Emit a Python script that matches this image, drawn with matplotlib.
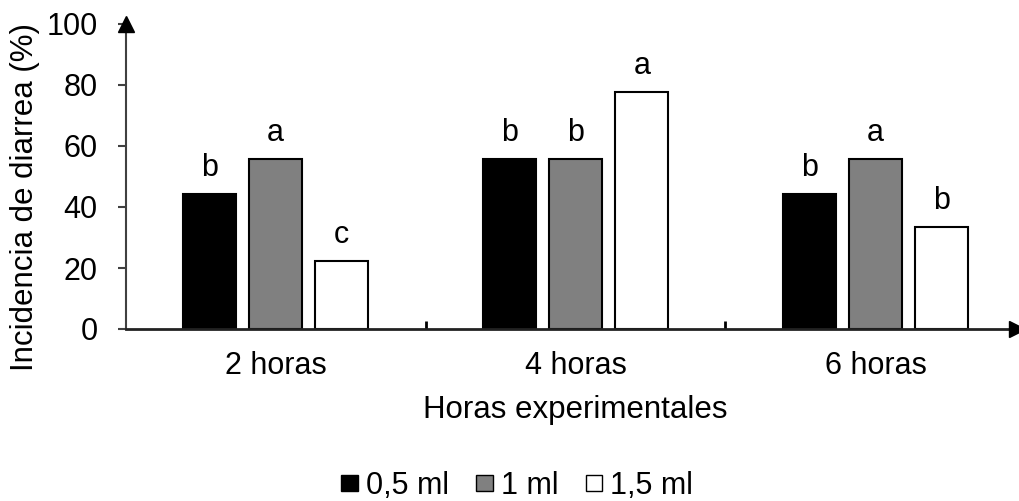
import matplotlib.pyplot as plt
from matplotlib.patches import Rectangle

plt.rcParams['font.family'] = ['Liberation Sans', 'DejaVu Sans']

grupos = ['2 horas', '4 horas', '6 horas']
series = ['0,5 ml', '1 ml', '1,5 ml']
valores = [
    [44.4, 55.6, 44.4],
    [55.6, 55.6, 55.6],
    [22.2, 77.8, 33.3],
]
letras = [
    ['b', 'b', 'b'],
    ['a', 'b', 'a'],
    ['c', 'a', 'b'],
]
colores = ['black', '#808080', 'white']
eje = '#404040'

fig = plt.figure(figsize=(10.19, 5.01), dpi=100)
ax = fig.add_axes([125.5 / 1019, 172 / 501, 891 / 1019, 305 / 501])

ancho = 0.177
desp = 0.221
x = list(range(len(grupos)))
for i, serie in enumerate(series):
    pos = [p + (i - 1) * desp for p in x]
    ax.bar(pos, valores[i], width=ancho, color=colores[i], edgecolor='black',
           linewidth=1.5, label=serie, zorder=2)
    for px, v, t in zip(pos, valores[i], letras[i]):
        ax.annotate(t, (px, v), xytext=(0, 13), textcoords='offset points',
                    ha='center', va='baseline', fontsize=22)

ax.set_xlim(-0.5, 2.47)
ax.set_ylim(0, 100)
ax.set_yticks([0, 20, 40, 60, 80, 100])
ax.tick_params(axis='y', direction='out', length=6, width=1.5, color=eje,
               labelsize=22, pad=14)
ax.set_xticks([0.5, 1.5])
ax.set_xticklabels([])
ax.tick_params(axis='x', which='major', direction='in', length=6, width=2,
               color='black')
ax.set_xticks(x, minor=True)
ax.set_xticklabels(grupos, minor=True)
ax.tick_params(axis='x', which='minor', length=0, labelsize=22, pad=16)

for s in ['top', 'right']:
    ax.spines[s].set_visible(False)
ax.spines['left'].set_color(eje)
ax.spines['left'].set_linewidth(1.5)
ax.spines['bottom'].set_color('#222222')
ax.spines['bottom'].set_linewidth(2)

# flechas de los ejes
ax.plot([0], [1], marker='^', markersize=11, color='black',
        transform=ax.transAxes, clip_on=False, zorder=5)
ax.plot([1], [0], marker='>', markersize=11, color='black',
        transform=ax.transAxes, clip_on=False, zorder=5)

fig.text(25 / 1019, 1 - 197 / 501, 'Incidencia de diarrea (%)', rotation=90,
         ha='center', va='center', fontsize=22.5)
fig.text(575 / 1019, 1 - 410 / 501, 'Horas experimentales', ha='center',
         va='center', fontsize=22.5)

handles = [Rectangle((0, 0), 1, 1, facecolor=c, edgecolor='black', linewidth=1)
           for c in colores]
fig.legend(handles, series, loc='center', bbox_to_anchor=(517 / 1019, 15 / 501),
           ncol=3, frameon=False, fontsize=22, handlelength=0.55,
           handleheight=0.45, handletextpad=0.25, columnspacing=0.9,
           borderpad=0)

fig.savefig('out.png', dpi=100)
